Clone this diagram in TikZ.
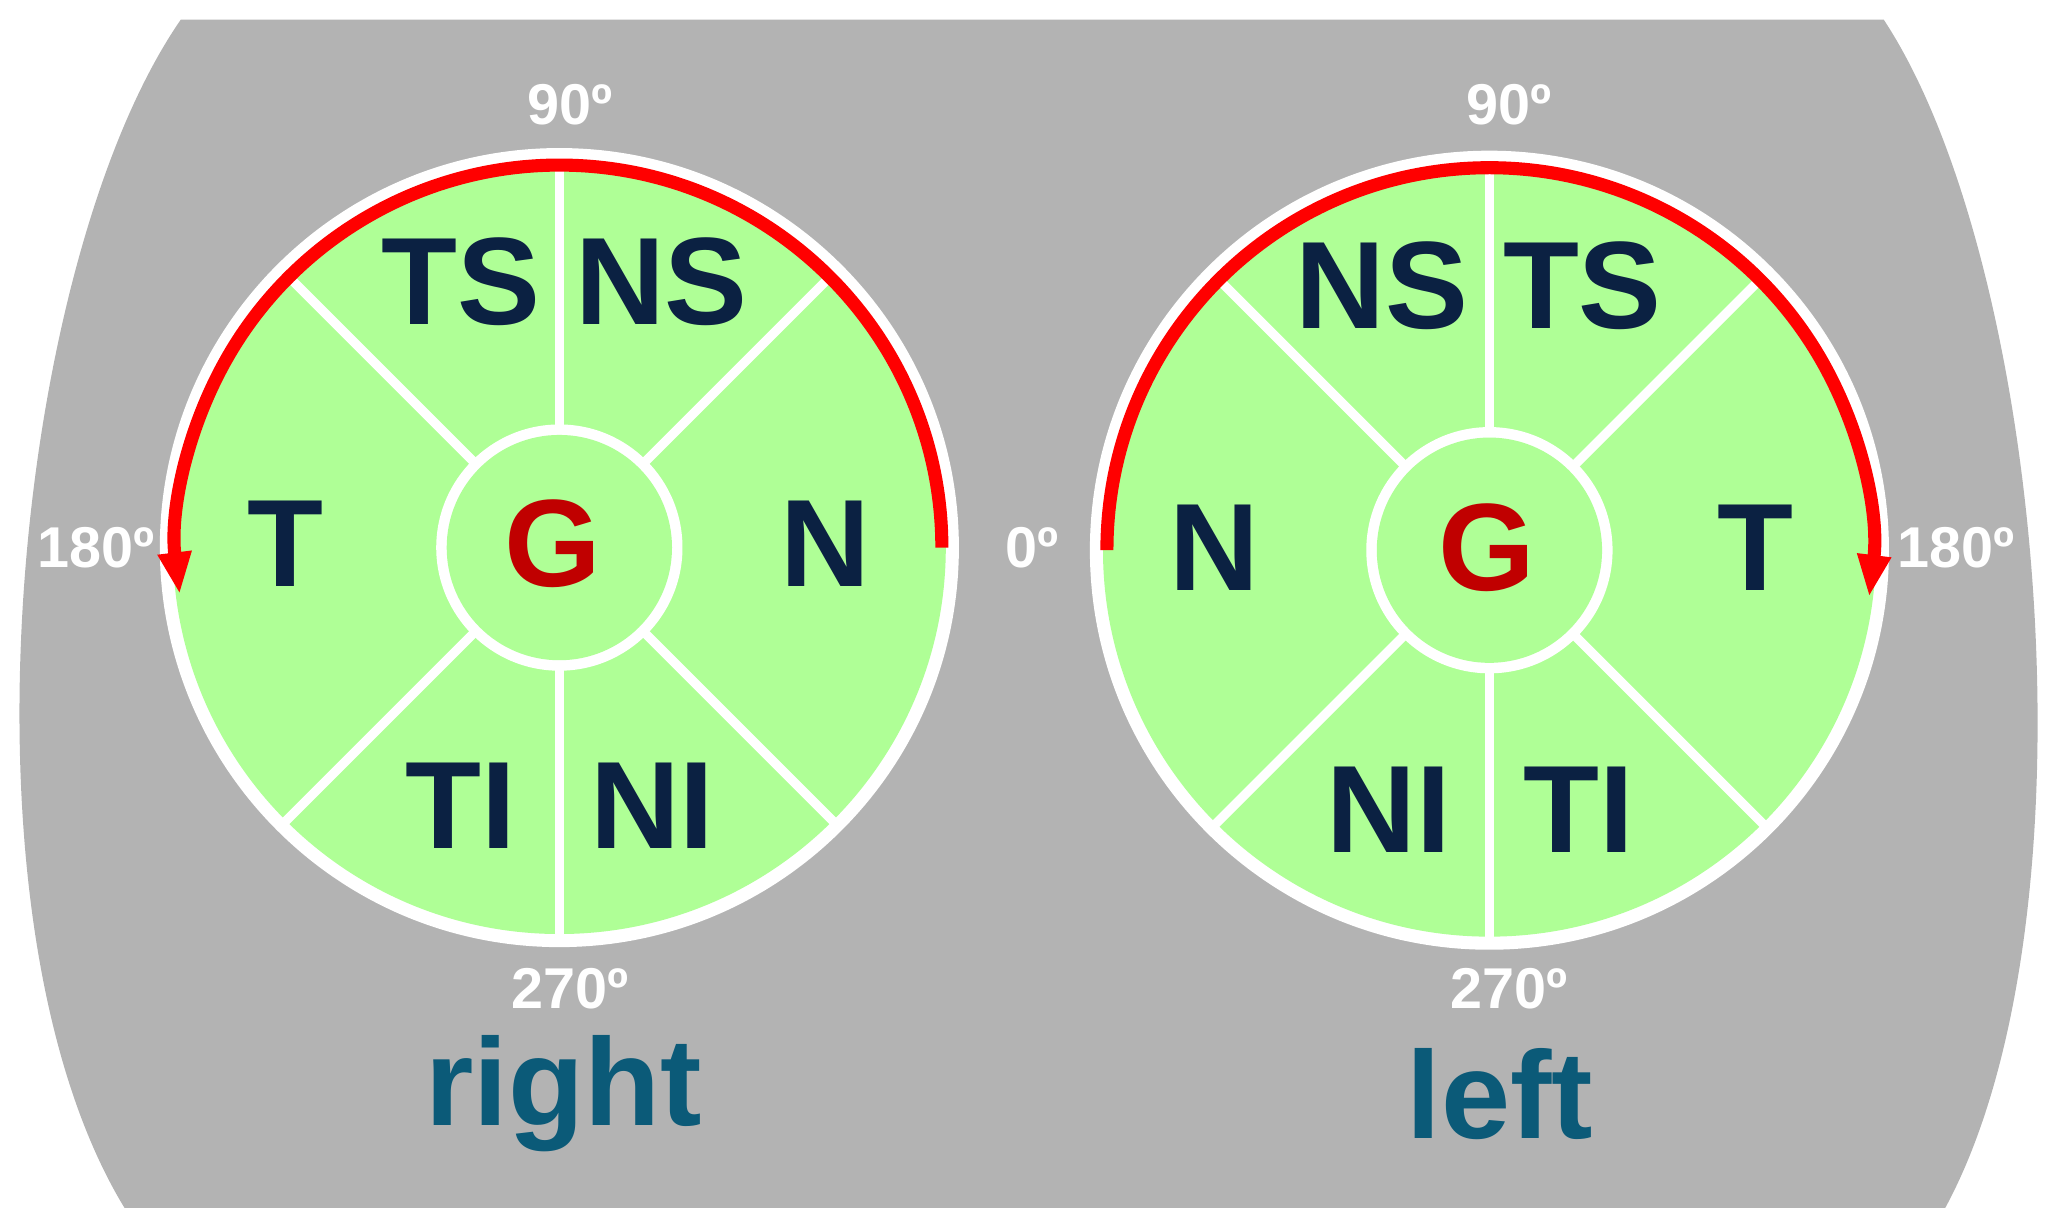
\documentclass[tikz,border=0pt]{standalone}
\usepackage{fontspec}
\setmainfont{Liberation Sans}
\usetikzlibrary{arrows.meta,calc}
\definecolor{bg}{HTML}{B3B3B3}
\definecolor{gr}{HTML}{AFFF96}
\definecolor{navy}{HTML}{0B2142}
\definecolor{gred}{HTML}{C00000}
\definecolor{lab}{HTML}{0B5A78}
\tikzset{
  seg/.style={font=\fontsize{27}{27}\selectfont\bfseries, text=navy, inner sep=0pt},
  gl/.style={font=\fontsize{27}{27}\selectfont\bfseries, text=gred, inner sep=0pt},
  deg/.style={font=\fontsize{12.5}{12.5}\selectfont\bfseries, text=white, inner sep=0pt},
  side/.style={font=\fontsize{27}{27}\selectfont\bfseries, text=lab, inner sep=0pt},
  wl/.style={white, line width=0.07cm},
  redarc/.style={red, line width=0.1cm, -{Triangle[length=0.32cm,width=0.24cm]}}
}
\begin{document}
\begin{tikzpicture}
\useasboundingbox (0,0) rectangle (15.68,-9.37);
\fill[bg] (1.38,-0.15) -- (14.38,-0.15) .. controls (15.6,-2.0) and (16.05,-7.0) .. (14.85,-9.22)
  -- (0.95,-9.22) .. controls (-0.4,-7) and (0.1,-2) .. (1.38,-0.15) -- cycle;
\foreach \cx/\cy/\nm in {4.27/-4.18/R, 11.37/-4.20/L}{
  \coordinate (c\nm) at (\cx,\cy);
  \fill[white] (c\nm) circle (3.05);
  \fill[gr] (c\nm) circle (2.95);
  \foreach \a in {45,135,225,315,90,270}
    \draw[wl] ($(c\nm)+(\a:0.9)$) -- ($(c\nm)+(\a:2.97)$);
  \fill[white] (c\nm) circle (0.94);
  \fill[gr] (c\nm) circle (0.86);
}
\draw[redarc] ($(cR)+(0:2.92)$) arc[start angle=0,end angle=187,radius=2.92];
\draw[redarc] ($(cL)+(180:2.92)$) arc[start angle=180,end angle=-7,radius=2.92];
% right eye labels
\node[seg] (rTS) at (3.52,-2.15) {TS};
\node[seg] (rNS) at (5.05,-2.15) {NS};
\node[seg] (rT) at (2.18,-4.15) {T};
\node[seg] (rN) at (6.30,-4.15) {N};
\node[gl] (rG) at (4.22,-4.15) {G};
\node[seg] (rTI) at (3.52,-6.15) {TI};
\node[seg] (rNI) at (4.98,-6.15) {NI};
\node[deg] (r90) at (4.35,-0.80) {90º};
\node[deg] (r180) at (0.73,-4.18) {180º};
\node[deg] (r270) at (4.35,-7.55) {270º};
\node[deg] (r0) at (7.88,-4.18) {0º};
\node[side] (right) at (4.30,-8.35) {right};
% left eye labels
\node[seg] (lNS) at (10.55,-2.18) {NS};
\node[seg] (lTS) at (12.08,-2.18) {TS};
\node[seg] (lN) at (9.27,-4.18) {N};
\node[seg] (lT) at (13.40,-4.18) {T};
\node[gl] (lG) at (11.35,-4.18) {G};
\node[seg] (lNI) at (10.60,-6.18) {NI};
\node[seg] (lTI) at (12.05,-6.18) {TI};
\node[deg] (l90) at (11.52,-0.80) {90º};
\node[deg] (l180) at (14.93,-4.18) {180º};
\node[deg] (l270) at (11.52,-7.55) {270º};
\node[side] (left) at (11.45,-8.35) {left};
\end{tikzpicture}
\end{document}
